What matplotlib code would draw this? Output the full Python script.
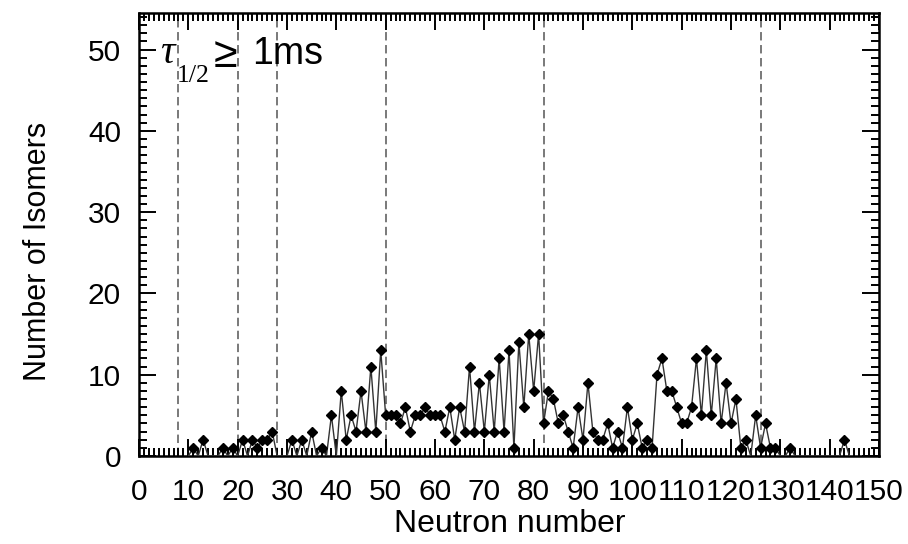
import numpy as np
import matplotlib
matplotlib.use("Agg")
import matplotlib.pyplot as plt
from matplotlib import font_manager
from matplotlib.ticker import MultipleLocator

# neutron number and number of isomers (t1/2 >= 1 ms)
neutrons = list(range(10, 145))
isomers = [
    0, 1, 0, 2, 0, 0, 0, 1, 0, 1,       # 10-19
    0, 2, 0, 2, 1, 2, 2, 3, 0, 0,       # 20-29
    0, 2, 0, 2, 0, 3, 0, 1, 0, 5,       # 30-39
    0, 8, 2, 5, 3, 8, 3, 11, 3, 13,     # 40-49
    5, 5, 5, 4, 6, 3, 5, 5, 6, 5,       # 50-59
    5, 5, 3, 6, 2, 6, 3, 11, 3, 9,      # 60-69
    3, 10, 3, 12, 3, 13, 1, 14, 6, 15,  # 70-79
    8, 15, 4, 8, 7, 4, 5, 3, 1, 6,      # 80-89
    2, 9, 3, 2, 2, 4, 1, 3, 1, 6,       # 90-99
    2, 4, 1, 2, 1, 10, 12, 8, 8, 6,     # 100-109
    4, 4, 6, 12, 5, 13, 5, 12, 4, 9,    # 110-119
    4, 7, 1, 2, 0, 5, 1, 4, 1, 1,       # 120-129
    0, 0, 1, 0, 0, 0, 0, 0, 0, 0,       # 130-139
    0, 0, 0, 2, 0,                      # 140-144
]
magic_numbers = [8, 20, 28, 50, 82, 126]
x_ticks = list(range(0, 151, 10))
y_ticks = list(range(0, 51, 10))

W, H = 908, 544


def px(x, y):
    # pixel position (from top-left) -> figure fraction
    return x / W, 1 - y / H


def main() -> None:
    names = {f.name for f in font_manager.fontManager.ttflist}
    narrow = "Liberation Sans Narrow" in names
    sans = "Liberation Sans Narrow" if narrow else "Liberation Sans"
    # narrow face needs a bigger size to reach the same height
    k = 1.1 if narrow else 1.0
    plt.rcParams["font.family"] = [sans, "DejaVu Sans"]

    fig = plt.figure(figsize=(W / 100, H / 100), dpi=100)
    left, bottom = px(139, 456)
    right, top = px(879, 13)
    ax = fig.add_axes([left, bottom, right - left, top - bottom])

    for n in magic_numbers:
        ax.axvline(n, color="#555555", lw=1.1, dashes=(5.5, 3), zorder=1)

    vals = np.array(isomers)
    marked = [i for i, v in enumerate(vals) if v > 0]
    ax.plot(neutrons, vals, color="#333333", lw=1.0, marker="D", ms=5.0,
            mfc="black", mec="black", markevery=marked, zorder=3)

    ax.set_xlim(0, 150)
    ax.set_ylim(0, 54.5)
    ax.set_xticks(x_ticks)
    ax.set_yticks(y_ticks)
    ax.xaxis.set_minor_locator(MultipleLocator(1))
    ax.yaxis.set_minor_locator(MultipleLocator(1))
    ax.tick_params(which="both", direction="in", top=True, right=True, width=1.4, color="black")
    ax.tick_params(which="major", length=12)
    ax.tick_params(which="minor", length=6)
    ax.tick_params(axis="x", pad=16, labelsize=21.5 * k)
    ax.tick_params(axis="y", pad=13, labelsize=21.5 * k)
    for sp in ax.spines.values():
        sp.set_linewidth(1.8)

    fig.text(*px(510, 524), "Neutron number", fontsize=23 * k, ha="center", va="center")
    fig.text(*px(38, 251), "Number of Isomers", fontsize=22 * k, ha="center", va="center",
             rotation=90)

    # tau_1/2 >= 1ms label
    fig.text(*px(160, 63), "\u03c4", fontsize=29, style="italic",
             family=["Liberation Serif", "DejaVu Serif"], ha="left", va="baseline")
    fig.text(*px(177, 82), "1/2", fontsize=18.5,
             family=["Liberation Serif", "DejaVu Serif"], ha="left", va="baseline")
    fig.text(*px(214, 67), "\u2265", fontsize=31, family=["Liberation Sans", "DejaVu Sans"],
             ha="left", va="baseline")
    fig.text(*px(252, 64), "1ms", fontsize=27, family=["Liberation Sans", "DejaVu Sans"],
             ha="left", va="baseline")

    fig.savefig("out.png", dpi=100)


if __name__ == "__main__":
    main()
